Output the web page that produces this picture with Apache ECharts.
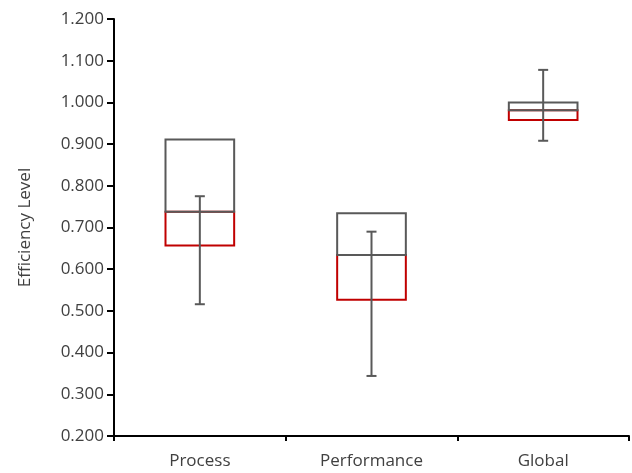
<!DOCTYPE html>
<html>
<head>
<meta charset="utf-8">
<script src="https://cdn.jsdelivr.net/npm/echarts@6/dist/echarts.min.js"></script>
<style>html,body{margin:0;padding:0;background:#fff;}#c{width:632px;height:473px;}</style>
</head>
<body>
<div id="c"></div>
<script>
var categories = ['Process', 'Performance', 'Global'];
var q1Values = [0.657, 0.527, 0.958];
var medianValues = [0.738, 0.634, 0.981];
var q3Values = [0.911, 0.734, 1.000];
var whiskerLow = [0.516, 0.344, 0.908];
var whiskerHigh = [0.775, 0.690, 1.078];
var yTicks = { min: 0.2, max: 1.2, interval: 0.1 };

var GRAY = '#595959', RED = '#c00000';
var FONT = 'Open Sans';
var chart = echarts.init(document.getElementById('c'), null, { renderer: 'canvas' });

function boxRender(params, api) {
  var i = api.value(0);
  var q1 = api.coord([i, api.value(1)]);
  var med = api.coord([i, api.value(2)]);
  var q3 = api.coord([i, api.value(3)]);
  var w = api.size([1, 0])[0] * 0.4;
  var x0 = q1[0] - w / 2;
  return {
    type: 'group',
    children: [
      { type: 'rect', shape: { x: x0, y: med[1], width: w, height: q1[1] - med[1] },
        style: { fill: 'none', stroke: RED, lineWidth: 2 } },
      { type: 'rect', shape: { x: x0, y: q3[1], width: w, height: med[1] - q3[1] },
        style: { fill: 'none', stroke: GRAY, lineWidth: 2 } }
    ]
  };
}
function whiskerRender(params, api) {
  var i = api.value(0);
  var lo = api.coord([i, api.value(1)]);
  var hi = api.coord([i, api.value(2)]);
  var cap = 5;
  return {
    type: 'group',
    children: [
      { type: 'line', shape: { x1: lo[0], y1: lo[1], x2: hi[0], y2: hi[1] }, style: { stroke: GRAY, lineWidth: 2 } },
      { type: 'line', shape: { x1: lo[0] - cap, y1: lo[1], x2: lo[0] + cap, y2: lo[1] }, style: { stroke: GRAY, lineWidth: 2 } },
      { type: 'line', shape: { x1: hi[0] - cap, y1: hi[1], x2: hi[0] + cap, y2: hi[1] }, style: { stroke: GRAY, lineWidth: 2 } }
    ]
  };
}

var boxData = categories.map(function (c, i) { return [i, q1Values[i], medianValues[i], q3Values[i]]; });
var whiskerData = categories.map(function (c, i) { return [i, whiskerLow[i], whiskerHigh[i]]; });

chart.setOption({
  animation: false,
  backgroundColor: '#fff',
  grid: { left: 114, right: 3, top: 19, bottom: 37, containLabel: false },
  xAxis: {
    type: 'category',
    data: categories,
    boundaryGap: true,
    axisLine: { lineStyle: { color: '#000', width: 2 } },
    axisTick: { show: true, length: 5, alignWithLabel: false, lineStyle: { color: '#000', width: 2 } },
    axisLabel: { color: '#404040', fontSize: 17, fontFamily: FONT, margin: 17 },
    splitLine: { show: false }
  },
  yAxis: {
    type: 'value',
    min: yTicks.min, max: yTicks.max, interval: yTicks.interval,
    name: 'Efficiency Level',
    nameLocation: 'middle',
    nameGap: 80,
    nameTextStyle: { color: '#404040', fontSize: 17, fontFamily: FONT },
    axisLine: { show: true, lineStyle: { color: '#000', width: 2 } },
    axisTick: { show: true, length: 7, lineStyle: { color: '#000', width: 2 } },
    axisLabel: { color: '#404040', fontSize: 17, fontFamily: FONT, margin: 10,
      formatter: function (v) { return v.toFixed(3); } },
    splitLine: { show: false }
  },
  series: [
    { type: 'custom', renderItem: boxRender, data: boxData, encode: { x: 0, y: [1, 2, 3] }, z: 2 },
    { type: 'custom', renderItem: whiskerRender, data: whiskerData, encode: { x: 0, y: [1, 2] }, z: 3 }
  ]
});
</script>
</body>
</html>
